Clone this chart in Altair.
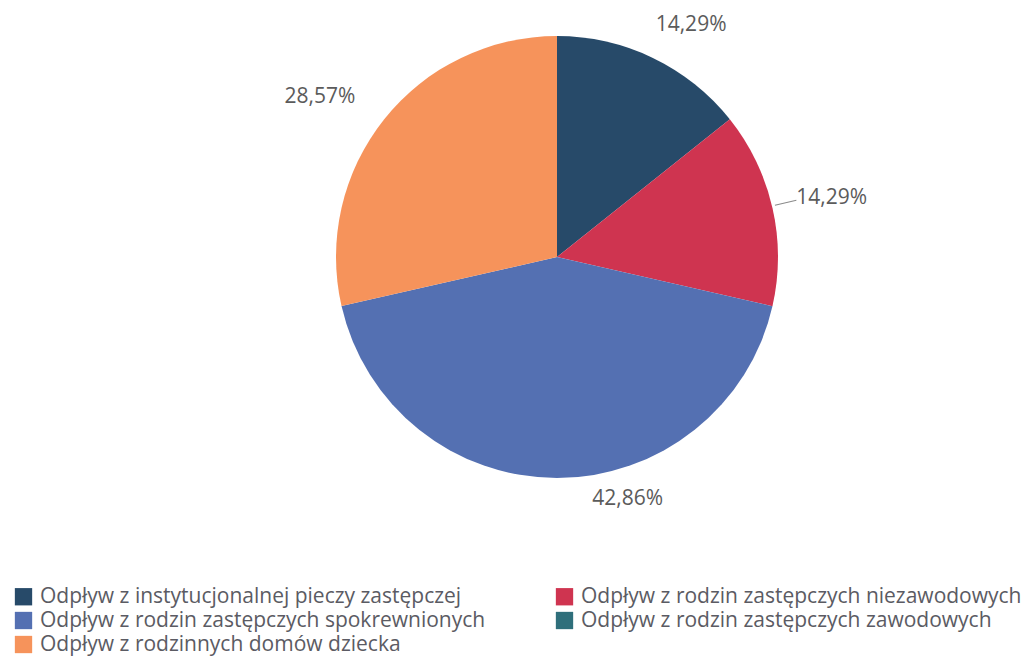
import math
import altair as alt
import pandas as pd

categories = [
    "Odpływ z instytucjonalnej pieczy zastępczej",
    "Odpływ z rodzin zastępczych niezawodowych",
    "Odpływ z rodzin zastępczych spokrewnionych",
    "Odpływ z rodzin zastępczych zawodowych",
    "Odpływ z rodzinnych domów dziecka",
]
values = [14.29, 14.29, 42.86, 0.0, 28.57]
pie_order = [0, 1, 2, 4, 3]
colors = ["#274a69", "#cf3450", "#5470b2", "#2f6f7b", "#f6935b"]
labels = ["14,29%", "14,29%", "42,86%", "", "28,57%"]
# legend is filled column by column
legend_order = [0, 2, 4, 1, 3]

# label placement style (angle shift in degrees, distance from centre in px)
label_shift = [4.3, 0.7, -16.3, 0.0, -4.6]
label_dist = [268, 281, 252, 0, 286]
# short leader stroke (angle shift in degrees) for the red label
leader_shift = [None, -0.5, None, None, None]

df = pd.DataFrame({"cat": categories, "val": values, "ord": pie_order, "lab": labels})

total = sum(values)
order_idx = sorted(range(len(values)), key=lambda i: pie_order[i])
cum = 0.0
mid = {}
for i in order_idx:
    mid[i] = (cum + values[i] / 2) / total * 2 * math.pi
    cum += values[i]
lab_df = pd.DataFrame({
    "lab": labels,
    "la": [mid[i] + math.radians(label_shift[i]) for i in range(len(values))],
    "lr": label_dist,
    "val": values,
})
lab_df = lab_df[lab_df["val"] > 0]

lead_rows = []
for i, s in enumerate(leader_shift):
    if s is not None:
        a = mid[i] + math.radians(s)
        lead_rows.append({"t1": a - 0.002, "t2": a + 0.002})
lead_df = pd.DataFrame(lead_rows)

CX, CY, R = 549, 249, 221
leg_domain = [categories[i] for i in legend_order]
leg_range = [colors[i] for i in legend_order]

pie = alt.Chart(df).mark_arc(outerRadius=R, x=CX, y=CY, stroke=None).encode(
    theta=alt.Theta("val:Q", stack=True),
    order=alt.Order("ord:Q"),
    color=alt.Color(
        "cat:N",
        scale=alt.Scale(domain=leg_domain, range=leg_range),
        sort=leg_domain,
        legend=alt.Legend(
            title=None,
            orient="none",
            legendX=5,
            legendY=578,
            columns=2,
            columnPadding=68,
            rowPadding=2,
            symbolType="square",
            symbolSize=300,
            symbolStrokeWidth=0,
            symbolOpacity=1,
            labelFont="Open Sans",
            labelFontSize=21,
            labelColor="#5b5b63",
            labelLimit=0,
            labelOffset=6,
        ),
    ),
)

leaders = alt.Chart(lead_df).mark_arc(
    x=CX, y=CY, innerRadius=224, outerRadius=246, color="#8a8a8a", stroke=None,
).encode(
    theta=alt.Theta("t1:Q", scale=None, stack=None),
    theta2="t2:Q",
)

text = alt.Chart(lab_df).mark_text(
    x=CX, y=CY, font="Open Sans", fontSize=21, color="#5b5b5b",
    align="center", baseline="middle",
).encode(
    theta=alt.Theta("la:Q", scale=None, stack=None),
    radius=alt.Radius("lr:Q", scale=None),
    text="lab:N",
)

chart = alt.layer(pie, leaders, text).properties(
    width=1018, height=648, autosize="none", padding=0,
).configure_view(stroke=None).configure(background="white")

chart.save("out.html", embed_options={"renderer": "svg", "actions": False})
